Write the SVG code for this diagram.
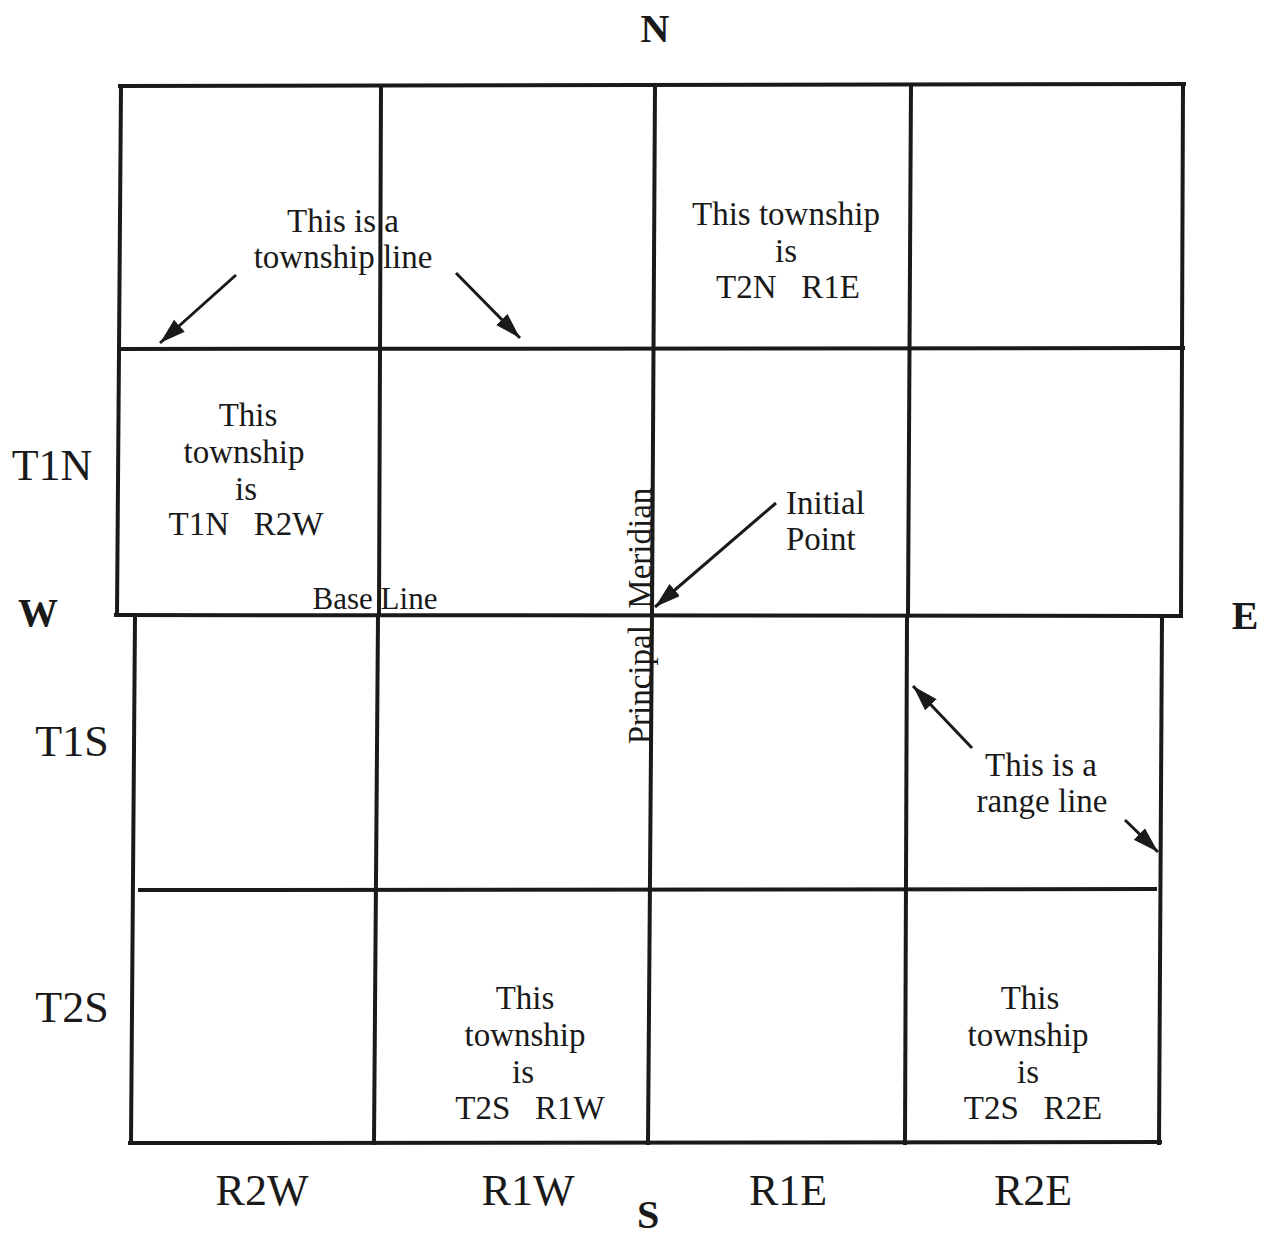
<svg xmlns="http://www.w3.org/2000/svg" width="1271" height="1235" viewBox="0 0 1271 1235">
<style>
  .grid line { stroke: #1a1a1a; stroke-width: 4; stroke-linecap: square; }
  .conn line { stroke: #1a1a1a; stroke-width: 3; }
  text { font-family: "Liberation Serif", "Times New Roman", serif; fill: #1a1a1a; white-space: pre; }
  .cell { font-size: 33px; text-anchor: middle; }
  .axis { font-size: 44px; text-anchor: middle; }
  .compass { font-size: 40px; font-weight: bold; text-anchor: middle; }
</style>
<defs>
  <marker id="arr" markerUnits="userSpaceOnUse" markerWidth="28" markerHeight="18" refX="26" refY="8" orient="auto">
    <path d="M0,0 L26,8 L0,16 z" fill="#1a1a1a"/>
  </marker>
</defs>
<rect width="1271" height="1235" fill="#ffffff"/>

<g id="grid" class="grid">
  <!-- northern half -->
  <line x1="120" y1="86" x2="1184" y2="84"/>
  <line x1="121" y1="86" x2="117" y2="615"/>
  <line x1="1183" y1="84" x2="1181" y2="616"/>
  <line x1="121" y1="349" x2="1183" y2="348"/>
  <line x1="381" y1="86" x2="379" y2="615"/>
  <line x1="655" y1="85" x2="652" y2="615"/>
  <line x1="911" y1="85" x2="908" y2="615"/>
  <!-- base line -->
  <line x1="116" y1="615" x2="1181" y2="616"/>
  <!-- southern half -->
  <line x1="135" y1="616" x2="131" y2="1143"/>
  <line x1="1162" y1="617" x2="1159" y2="1143"/>
  <line x1="130" y1="1143" x2="1160" y2="1142"/>
  <line x1="140" y1="890" x2="1155" y2="889"/>
  <line x1="378" y1="616" x2="374" y2="1143"/>
  <line x1="652" y1="615" x2="648" y2="1143"/>
  <line x1="907" y1="616" x2="905" y2="1143"/>
</g>

<g id="compass">
  <text class="compass" x="655" y="42">N</text>
  <text class="compass" x="38" y="626">W</text>
  <text class="compass" x="1245" y="629">E</text>
  <text class="compass" x="648" y="1228">S</text>
</g>

<g id="townships">
  <text class="axis" x="52" y="480">T1N</text>
  <text class="axis" x="72" y="756">T1S</text>
  <text class="axis" x="72" y="1022">T2S</text>
</g>

<g id="ranges">
  <text class="axis" x="262" y="1205">R2W</text>
  <text class="axis" x="528" y="1205">R1W</text>
  <text class="axis" x="788" y="1205">R1E</text>
  <text class="axis" x="1033" y="1205">R2E</text>
</g>

<g id="label-township-line">
  <text class="cell" x="343" y="232">This is a</text>
  <text class="cell" x="343" y="268">township line</text>
</g>

<g id="label-t2n-r1e">
  <text class="cell" x="786" y="225">This township</text>
  <text class="cell" x="786" y="262">is</text>
  <text class="cell" x="788" y="298">T2N   R1E</text>
</g>

<g id="label-t1n-r2w">
  <text class="cell" x="248" y="426">This</text>
  <text class="cell" x="244" y="463">township</text>
  <text class="cell" x="246" y="500">is</text>
  <text class="cell" x="246" y="535">T1N   R2W</text>
</g>

<g id="label-initial-point">
  <text class="cell" x="786" y="514" style="text-anchor:start">Initial</text>
  <text class="cell" x="786" y="550" style="text-anchor:start">Point</text>
</g>

<g id="label-base-line">
  <text class="cell" x="375" y="609" style="font-size:31px">Base Line</text>
</g>

<g id="label-principal-meridian">
  <text class="cell" transform="translate(651,616) rotate(-90)" x="0" y="0">Principal  Meridian</text>
</g>

<g id="label-range-line">
  <text class="cell" x="1041" y="776">This is a</text>
  <text class="cell" x="1042" y="812">range line</text>
</g>

<g id="label-t2s-r1w">
  <text class="cell" x="525" y="1009">This</text>
  <text class="cell" x="525" y="1046">township</text>
  <text class="cell" x="523" y="1083">is</text>
  <text class="cell" x="530" y="1119">T2S   R1W</text>
</g>

<g id="label-t2s-r2e">
  <text class="cell" x="1030" y="1009">This</text>
  <text class="cell" x="1028" y="1046">township</text>
  <text class="cell" x="1028" y="1083">is</text>
  <text class="cell" x="1033" y="1119">T2S   R2E</text>
</g>

<g id="connectors" class="conn">
  <line x1="236" y1="275" x2="160" y2="343" marker-end="url(#arr)"/>
  <line x1="456" y1="273" x2="520" y2="338" marker-end="url(#arr)"/>
  <line x1="776" y1="503" x2="655" y2="607" marker-end="url(#arr)"/>
  <line x1="972" y1="748" x2="913" y2="686" marker-end="url(#arr)"/>
  <line x1="1125" y1="820" x2="1158" y2="852" marker-end="url(#arr)"/>
</g>
</svg>
